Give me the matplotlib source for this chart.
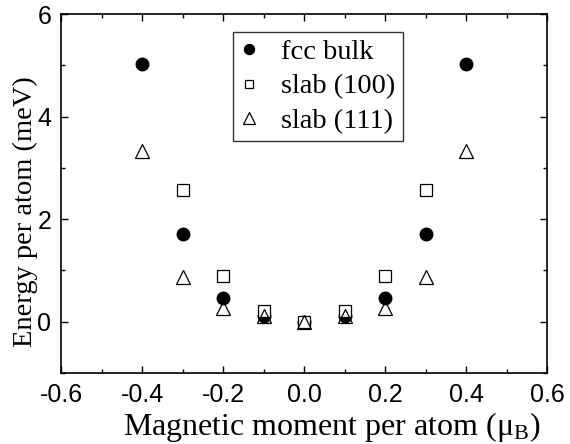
import matplotlib
matplotlib.use("Agg")
import matplotlib.pyplot as plt
from matplotlib.ticker import MultipleLocator

plt.rcParams['mathtext.fontset'] = 'custom'
plt.rcParams['mathtext.rm'] = 'Liberation Serif'
plt.rcParams['mathtext.it'] = 'Liberation Serif:italic'

x_bulk = [-0.4, -0.3, -0.2, -0.1, 0.0, 0.1, 0.2, 0.3, 0.4]
e_bulk = [5.02, 1.72, 0.46, 0.11, 0.0, 0.11, 0.46, 1.72, 5.02]
x_100 = [-0.3, -0.2, -0.1, 0.0, 0.1, 0.2, 0.3]
e_100 = [2.56, 0.90, 0.21, 0.0, 0.21, 0.90, 2.56]
x_111 = [-0.4, -0.3, -0.2, -0.1, 0.0, 0.1, 0.2, 0.3, 0.4]
e_111 = [3.33, 0.87, 0.27, 0.12, 0.0, 0.12, 0.27, 0.87, 3.33]
labels = ["fcc bulk", "slab (100)", "slab (111)"]
xticks = [-0.6, -0.4, -0.2, 0.0, 0.2, 0.4, 0.6]
yticks = [0, 2, 4, 6]

fig = plt.figure(figsize=(5.7, 4.44), dpi=100)
ax = fig.add_axes([61/570, 1-373/444, (547-61)/570, (373-14)/444])

ax.plot(x_bulk, e_bulk, 'o', ms=9, color='black', label=labels[0], zorder=2)
ax.plot(x_100, e_100, 's', ms=8, mfc='white', mec='black', mew=0.9, label=labels[1], zorder=3)
ax.plot(x_111, e_111, '^', ms=10.5, mfc='none', mec='black', mew=0.9, label=labels[2], zorder=4)

ax.set_xlim(-0.6, 0.6)
ax.set_ylim(-1, 6)
ax.xaxis.set_minor_locator(MultipleLocator(0.1))
ax.yaxis.set_minor_locator(MultipleLocator(1))
ax.tick_params(which='both', direction='in', top=True, right=True, width=1)
ax.tick_params(which='major', length=5, pad=7)
ax.tick_params(which='minor', length=3)
ax.set_xticks(xticks)
ax.set_xticklabels(["%.1f" % v for v in xticks], family='Liberation Sans', fontsize=18)
ax.set_yticks(yticks)
ax.set_yticklabels([str(v) for v in yticks], family='Liberation Sans', fontsize=18)
for s in ax.spines.values():
    s.set_linewidth(1.2)

ax.set_xlabel(r"Magnetic moment per atom ($\mathrm{\mu}_\mathrm{B}$)", family='Liberation Serif', fontsize=23)
ax.xaxis.set_label_coords(0.557, -0.104, transform=ax.transAxes)
ax.xaxis.label.set_va('top')
ax.set_ylabel("Energy per atom (meV)", family='Liberation Serif', fontsize=20.5)
ax.yaxis.set_label_coords(-0.047, 0.45, transform=ax.transAxes)

leg = ax.legend(loc='upper left', bbox_to_anchor=(172/486, 0.95), prop={'family': 'Liberation Serif', 'size': 20.5},
                frameon=True, fancybox=False, edgecolor='black', handletextpad=0.85,
                borderpad=0.25, labelspacing=0.3, handlelength=0.6, borderaxespad=0, markerscale=0.8)
leg.get_frame().set_linewidth(1.0)

fig.savefig("out.png", dpi=100)
